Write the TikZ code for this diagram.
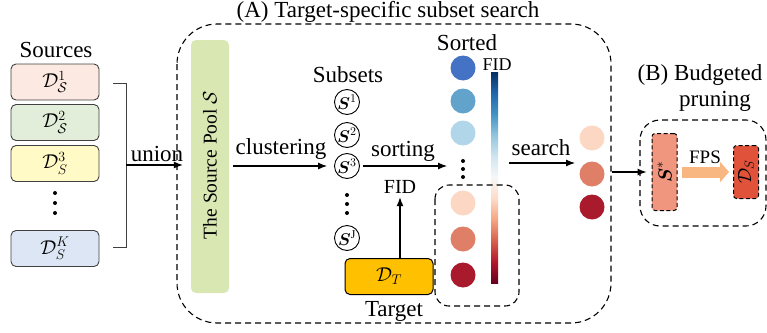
\RequirePackage{fix-cm}
\documentclass[tikz,border=0pt]{standalone}
\usepackage{amsmath}
\usepackage{fontspec}
\setmainfont{Liberation Serif}
\usetikzlibrary{arrows.meta}
\definecolor{c1}{HTML}{FCE9E1}
\definecolor{c2}{HTML}{E2EED9}
\definecolor{c3}{HTML}{FFFAC6}
\definecolor{c4}{HTML}{DCE6F4}
\definecolor{poolc}{HTML}{D9E7B3}
\definecolor{targc}{HTML}{FFC000}
\definecolor{bl1}{HTML}{4472C4}
\definecolor{bl2}{HTML}{62A3CB}
\definecolor{bl3}{HTML}{B1D5E9}
\definecolor{rd1}{HTML}{FBD7C4}
\definecolor{rd2}{HTML}{E07F67}
\definecolor{rd3}{HTML}{AA1A2D}
\definecolor{sstarc}{HTML}{F0967F}
\definecolor{dsc}{HTML}{E0533A}
\definecolor{fpsc}{HTML}{F8B680}
\definecolor{cb0}{HTML}{053061}
\definecolor{cb1}{HTML}{2166AC}
\definecolor{cb2}{HTML}{4393C3}
\definecolor{cb3}{HTML}{92C5DE}
\definecolor{cb4}{HTML}{D1E5F0}
\definecolor{cb5}{HTML}{F7F7F7}
\definecolor{cb6}{HTML}{FDDBC7}
\definecolor{cb7}{HTML}{F4A582}
\definecolor{cb8}{HTML}{D6604D}
\definecolor{cb9}{HTML}{B2182B}
\definecolor{cb10}{HTML}{67001F}
\pgfdeclareverticalshading{rdbu}{100bp}{color(0bp)=(cb10); color(25bp)=(cb10); color(30bp)=(cb9); color(35bp)=(cb8); color(40bp)=(cb7); color(45bp)=(cb6); color(50bp)=(cb5); color(55bp)=(cb4); color(60bp)=(cb3); color(65bp)=(cb2); color(70bp)=(cb1); color(75bp)=(cb0); color(100bp)=(cb0)}
\begin{document}
\begin{tikzpicture}[x=1pt,y=-1pt,
  lbl/.style={inner sep=0pt, font=\fontsize{23}{26}\selectfont, anchor=base},
  srcbox/.style={draw=black!75, line width=0.9pt, rounded corners=5pt, minimum width=88pt, minimum height=36pt, inner sep=0pt, font=\fontsize{20}{22}\selectfont},
  subc/.style={circle, draw, line width=0.9pt, minimum size=25pt, inner sep=0pt, font=\fontsize{17}{19}\selectfont},
  tdot/.style={circle, fill, inner sep=0pt, minimum size=4pt},
  ball/.style={circle, inner sep=0pt, minimum size=25pt},
  arr/.style={-{Latex[length=9pt,width=7pt]}, line width=1.1pt},
  dbox/.style={draw, dash pattern=on 6pt off 4pt, line width=1.1pt},
  bbox/.style={draw, dash pattern=on 4pt off 2.5pt, line width=1pt, rounded corners=3pt, inner sep=0pt, minimum width=25pt}
]
\useasboundingbox (0,0) rectangle (767,332);

% Sources
\node[lbl] (sources) at (56,57) {Sources};
\node[srcbox, fill=c1] (s1) at (55,82) {$\mathcal{D}^{1}_{\mathcal{S}}$};
\node[srcbox, fill=c2] (s2) at (55,122.5) {$\mathcal{D}^{2}_{\mathcal{S}}$};
\node[srcbox, fill=c3] (s3) at (55,163.5) {$\mathcal{D}^{3}_{S}$};
\node[tdot] (sd1) at (55,193) {};
\node[tdot] (sd2) at (55,203) {};
\node[tdot] (sd3) at (55,213) {};
\node[srcbox, fill=c4] (sK) at (55,248.5) {$\mathcal{D}^{K}_{S}$};

% bracket
\draw[line width=0.9pt, black!75] (113,83) -- (126,83) -- (126,247) -- (113,247);
\coordinate (bmid) at (126,165);

% Box A
\draw[dbox, rounded corners=40pt] (177,24) rectangle (611,323);
\node[lbl] (titleA) at (388,17) {(A) Target-specific subset search};

% pool
\node[fill=poolc, rounded corners=5pt, minimum width=38pt, minimum height=253pt, inner sep=0pt] (pool) at (210,166.5) {};
\node[rotate=90, inner sep=0pt, font=\fontsize{19.5}{22}\selectfont] (pooltxt) at (210,165) {The Source Pool $\mathcal{S}$};

\draw[arr, shorten >=8pt] (bmid) -- (bmid -| pool.west);
\node[lbl] (union) at (157,161) {union};

% subsets
\node[lbl] (subsets) at (348,82) {Subsets};
\node[subc] (sub1) at (347,102) {$\boldsymbol{S}^{1}$};
\node[subc] (sub2) at (347,135) {$\boldsymbol{S}^{2}$};
\node[subc] (sub3) at (347,166) {$\boldsymbol{S}^{3}$};
\node[tdot] (ud1) at (347,195) {};
\node[tdot] (ud2) at (347,204) {};
\node[tdot] (ud3) at (347,213) {};
\node[subc] (subJ) at (347,238) {$\boldsymbol{S}^{\mathrm{J}}$};

\draw[arr, shorten <=4pt, shorten >=7pt] (pool.east |- sub3) -- (sub3.west);
\node[lbl] (clust) at (281,154) {clustering};

% sorted
\node[lbl] (sorted) at (467,50) {Sorted};
\node[ball, fill=bl1] (b1) at (463,68) {};
\node[ball, fill=bl2] (b2) at (463,101) {};
\node[ball, fill=bl3] (b3) at (463,133) {};
\node[tdot] (od1) at (463,161) {};
\node[tdot] (od2) at (463,169) {};
\node[tdot] (od3) at (463,177) {};
\node[ball, fill=rd1] (r1) at (463,203) {};
\node[ball, fill=rd2] (r2) at (463,239) {};
\node[ball, fill=rd3] (r3) at (463,275) {};
\shade[shading=rdbu] (491,72) rectangle (498,283);
\node[lbl, font=\fontsize{18}{20}\selectfont] (fidc) at (497,70) {FID};
\draw[dbox, rounded corners=14pt] (435,185) rectangle (519,306);

\coordinate (sortend) at (447,166);
\draw[arr, shorten <=3pt] (sub3.east) -- (sortend);
\node[lbl] (sorting) at (403,156) {sorting};

% target
\node[draw, line width=1pt, fill=targc, rounded corners=5pt, minimum width=88pt, minimum height=36pt, inner sep=0pt, font=\fontsize{20}{22}\selectfont] (target) at (389,276.5) {$\mathcal{D}_{T}$};
\node[lbl, font=\fontsize{20}{22}\selectfont] (fidt) at (400,193) {FID};
\draw[arr, shorten >=4pt] (target.north -| fidt) -- (fidt.south);
\node[lbl] (targlbl) at (394,316) {Target};

% search
\coordinate (sst) at (509,163);
\coordinate (sen) at (575,163);
\draw[arr] (sst) -- (sen);
\node[lbl] (search) at (541,155) {search};
\node[ball, fill=rd1] (q1) at (592,138) {};
\node[ball, fill=rd2] (q2) at (592,174) {};
\node[ball, fill=rd3] (q3) at (592,207) {};

% Box B
\draw[dbox, rounded corners=20pt] (640,120) rectangle (766,226);
\node[lbl] (titleB1) at (700,80) {(B) Budgeted};
\node[lbl] (titleB2) at (715,106) {pruning};
\node[bbox, fill=sstarc, minimum height=77pt] (sstar) at (664.5,172) {};
\node[rotate=90, inner sep=0pt, font=\fontsize{19}{21}\selectfont] (sstartxt) at (sstar) {$\boldsymbol{S}^{*}$};
\node[bbox, fill=dsc, minimum height=53pt] (ds) at (746,172) {};
\node[rotate=90, inner sep=0pt, font=\fontsize{19}{21}\selectfont] (dstxt) at (ds) {$\mathcal{D}_{S}$};
\draw[arr, shorten <=7.5pt, shorten >=5pt] (q2.east |- sstar.west) -- (sstar.west);
\draw[fpsc, line width=11pt, -{Triangle[length=9pt,width=20pt]}, shorten <=4pt, shorten >=4pt] (sstar.east) -- (ds.west);
\node[lbl, font=\fontsize{19}{21}\selectfont] (fps) at (705,163) {FPS};
\end{tikzpicture}
\end{document}
